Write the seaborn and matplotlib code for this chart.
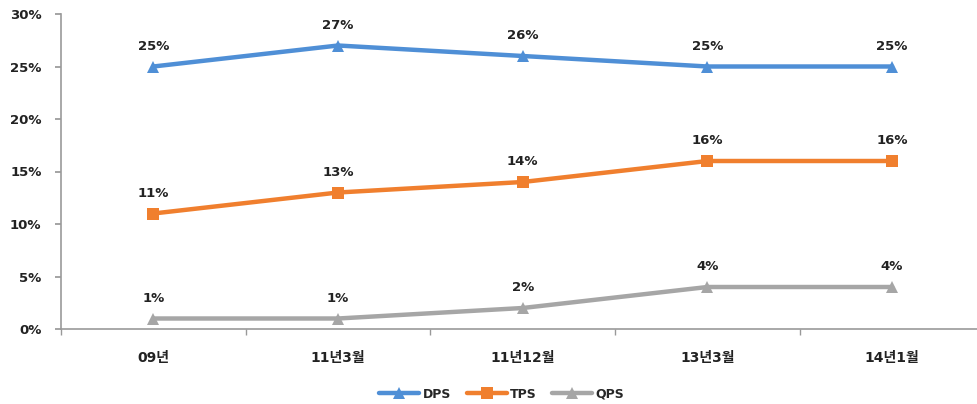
import matplotlib
matplotlib.use("Agg")
import matplotlib.pyplot as plt
import seaborn as sns
import pandas as pd
import numpy as np
from matplotlib.lines import Line2D

categories = ["09년", "11년3월", "11년12월", "13년3월", "14년1월"]
dps = [25, 27, 26, 25, 25]
tps = [11, 13, 14, 16, 16]
qps = [1, 1, 2, 4, 4]
series_names = ["DPS", "TPS", "QPS"]
colors = ["#4F8FD6", "#F07F2E", "#A6A6A6"]
markers = ["^", "s", "^"]

sns.set_theme(style="white")
plt.rcParams["font.family"] = ["DejaVu Sans", "Noto Sans CJK KR"]

rows = []
for name, vals in zip(series_names, [dps, tps, qps]):
    for i, (c, v) in enumerate(zip(categories, vals)):
        rows.append({"pos": i, "cat": c, "series": name, "value": v})
df = pd.DataFrame(rows)

fig = plt.figure(figsize=(9.78, 4.04), dpi=100)
ax = fig.add_axes([61 / 978, 75 / 404, (978 - 61) / 978, (329 - 14) / 404])

sns.lineplot(data=df, x="pos", y="value", hue="series", style="series",
             palette=dict(zip(series_names, colors)),
             markers=dict(zip(series_names, markers)), dashes=False,
             linewidth=3.2, markersize=9, markeredgewidth=0, ax=ax, legend=False)

for name, vals in zip(series_names, [dps, tps, qps]):
    for i, v in enumerate(vals):
        ax.annotate(f"{v}%", (i, v), xytext=(0, 10), textcoords="offset points",
                    ha="center", va="bottom", fontsize=9.5, fontweight="bold",
                    color="#222222")

ax.set_xlim(-0.5, 4.465)
ax.set_ylim(0, 30)
ax.set_yticks(range(0, 31, 5))
ax.set_yticklabels([f"{t}%" for t in range(0, 31, 5)], fontsize=9.5, fontweight="bold",
                   color="#222222")
ax.set_xticks(range(len(categories)))
ax.set_xticklabels(categories, fontsize=10, fontweight="bold", color="#222222")
ax.set_xticks(np.arange(-0.5, 4.5, 1), minor=True)
ax.tick_params(axis="x", which="major", length=0, pad=16)
ax.tick_params(axis="x", which="minor", length=4, color="#999999", direction="out", bottom=True)
ax.tick_params(axis="y", length=4, color="#999999", direction="out", left=True, pad=10)
ax.set_xlabel("")
ax.set_ylabel("")
for s in ["top", "right"]:
    ax.spines[s].set_visible(False)
for s in ["left", "bottom"]:
    ax.spines[s].set_color("#999999")
    ax.spines[s].set_linewidth(1.2)

handles = [Line2D([], [], color=c, marker=m, linewidth=3.2, markersize=8, markeredgewidth=0)
           for c, m in zip(colors, markers)]
fig.legend(handles, series_names, loc="center", bbox_to_anchor=(502 / 978, 1 - 394 / 404),
           ncol=3, frameon=False, prop={"weight": "bold", "size": 9},
           handlelength=3.2, handletextpad=0.3, columnspacing=1.2)

fig.savefig("out.png", dpi=100)
